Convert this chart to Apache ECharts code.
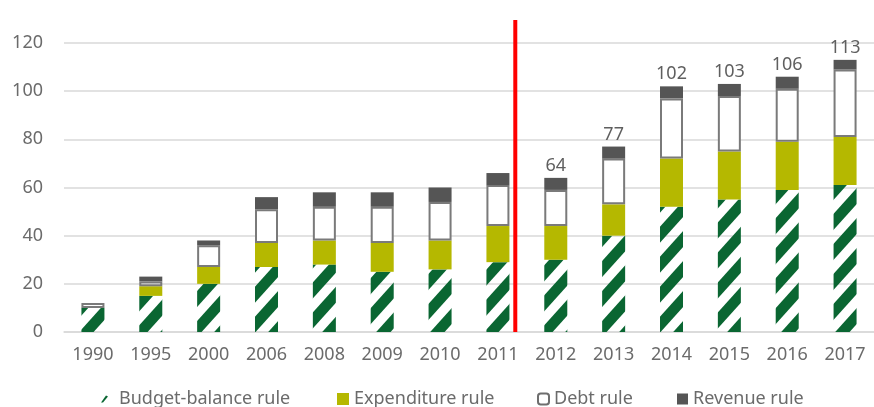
<!DOCTYPE html>
<html>
<head>
<meta charset="utf-8">
<script src="https://cdn.jsdelivr.net/npm/echarts@6/dist/echarts.min.js"></script>
<style>
  html, body { margin: 0; padding: 0; background: #ffffff; }
  #chart { width: 874px; height: 407px; }
</style>
</head>
<body>
<div id="chart"></div>
<script>
// Number of fiscal rules in force, by type
const years = ['1990', '1995', '2000', '2006', '2008', '2009', '2010', '2011',
               '2012', '2013', '2014', '2015', '2016', '2017'];
const budgetBalance = [10, 15, 20, 27, 28, 25, 26, 29, 30, 40, 52, 55, 59, 61];
const expenditure   = [ 0,  4,  7, 10, 10, 12, 12, 15, 14, 13, 20, 20, 20, 20];
const debt          = [ 2,  2,  9, 14, 14, 15, 16, 17, 15, 19, 25, 23, 22, 28];
const revenue       = [ 0,  2,  2,  5,  6,  6,  6,  5,  5,  5,  5,  5,  5,  4];
const totalLabels   = [null, null, null, null, null, null, null, null, 64, 77, 102, 103, 106, 113];
const yTicks = [0, 20, 40, 60, 80, 100, 120];

// Divider between 2011 and 2012, on a 0..14 band scale
const dividerAt = 7.8;
const dividerTop = 129.6;

const GREEN = '#0a6632';
const OLIVE = '#b5b800';
const GREY_DARK = '#555555';
const TEXT = '#6b6b6b';
const FONT = 'Noto Sans';

// Diagonal hatch tile for the budget-balance segments
function hatchTile() {
  const W = 27, P = 30, T = 16;
  const c = document.createElement('canvas');
  c.width = W; c.height = P;
  const ctx = c.getContext('2d');
  ctx.fillStyle = GREEN;
  for (let k = -1; k <= 2; k++) {
    const y0 = k * P;
    ctx.beginPath();
    ctx.moveTo(0, y0);
    ctx.lineTo(W, y0 - P);
    ctx.lineTo(W, y0 - P + T);
    ctx.lineTo(0, y0 + T);
    ctx.closePath();
    ctx.fill();
  }
  return c;
}

const chart = echarts.init(document.getElementById('chart'), null, { renderer: 'canvas' });

const legendText = { color: TEXT, fontFamily: FONT, fontSize: 18 };
const legendItems = [
  { name: 'Budget-balance rule', left: 101, size: 7,
    icon: 'path://M0,7 L5,0 L7,1 L2,7 Z', itemStyle: { color: GREEN }, pad: 6 },
  { name: 'Expenditure rule', left: 337, size: 12, icon: 'rect', itemStyle: { color: OLIVE }, pad: 0 },
  { name: 'Debt rule', left: 537, size: 11, icon: 'roundRect',
    itemStyle: { color: '#ffffff', borderColor: '#6e6e6e', borderWidth: 2 }, pad: 0 },
  { name: 'Revenue rule', left: 677, size: 11, icon: 'rect', itemStyle: { color: GREY_DARK }, pad: 0 }
];

const barWidth = 23;

chart.setOption({
  animation: false,
  backgroundColor: '#ffffff',
  textStyle: { fontFamily: FONT },
  grid: { left: 64, width: 816, top: 43, bottom: 75, containLabel: false },
  legend: legendItems.map(it => ({
    left: it.left,
    top: 390,
    padding: 0,
    itemWidth: it.size,
    itemHeight: it.size,
    selectedMode: false,
    textStyle: Object.assign({}, legendText, { padding: [0, 0, 0, it.pad] }),
    data: [{ name: it.name, icon: it.icon, itemStyle: it.itemStyle }]
  })),
  xAxis: [
    {
      type: 'category',
      data: years,
      axisLine: { show: true, lineStyle: { color: '#d9d9d9', width: 1.5 } },
      axisTick: { show: false },
      axisLabel: { color: TEXT, fontFamily: FONT, fontSize: 18, margin: 14 }
    },
    { type: 'value', min: 0, max: years.length, show: false }
  ],
  yAxis: {
    type: 'value',
    min: yTicks[0],
    max: yTicks[yTicks.length - 1],
    interval: 20,
    axisLine: { show: false },
    axisTick: { show: false },
    axisLabel: { color: TEXT, fontFamily: FONT, fontSize: 18, margin: 21 },
    splitLine: { lineStyle: { color: '#d9d9d9', width: 1.5 } }
  },
  series: [
    {
      name: 'Budget-balance rule', type: 'bar', stack: 'rules', barWidth: barWidth,
      data: budgetBalance,
      itemStyle: { color: { image: hatchTile(), repeat: 'repeat' } }
    },
    {
      name: 'Expenditure rule', type: 'bar', stack: 'rules', barWidth: barWidth,
      data: expenditure,
      itemStyle: { color: OLIVE }
    },
    {
      name: 'Debt rule', type: 'bar', stack: 'rules', barWidth: barWidth,
      data: debt,
      itemStyle: { color: '#ffffff', borderColor: '#7a7a7a', borderWidth: 2 }
    },
    {
      name: 'Revenue rule', type: 'bar', stack: 'rules', barWidth: barWidth,
      data: revenue,
      itemStyle: { color: GREY_DARK },
      label: {
        show: true,
        position: 'top',
        distance: 3,
        color: '#5f5f5f',
        fontFamily: FONT,
        fontSize: 18,
        formatter: p => (totalLabels[p.dataIndex] == null ? '' : String(totalLabels[p.dataIndex]))
      }
    },
    {
      name: 'divider', type: 'line',
      xAxisIndex: 1, yAxisIndex: 0,
      data: [[dividerAt, 0], [dividerAt, dividerTop]],
      clip: false, silent: true, symbol: 'none', z: 10,
      lineStyle: { color: '#ff0000', width: 4 }
    }
  ]
});
</script>
</body>
</html>
